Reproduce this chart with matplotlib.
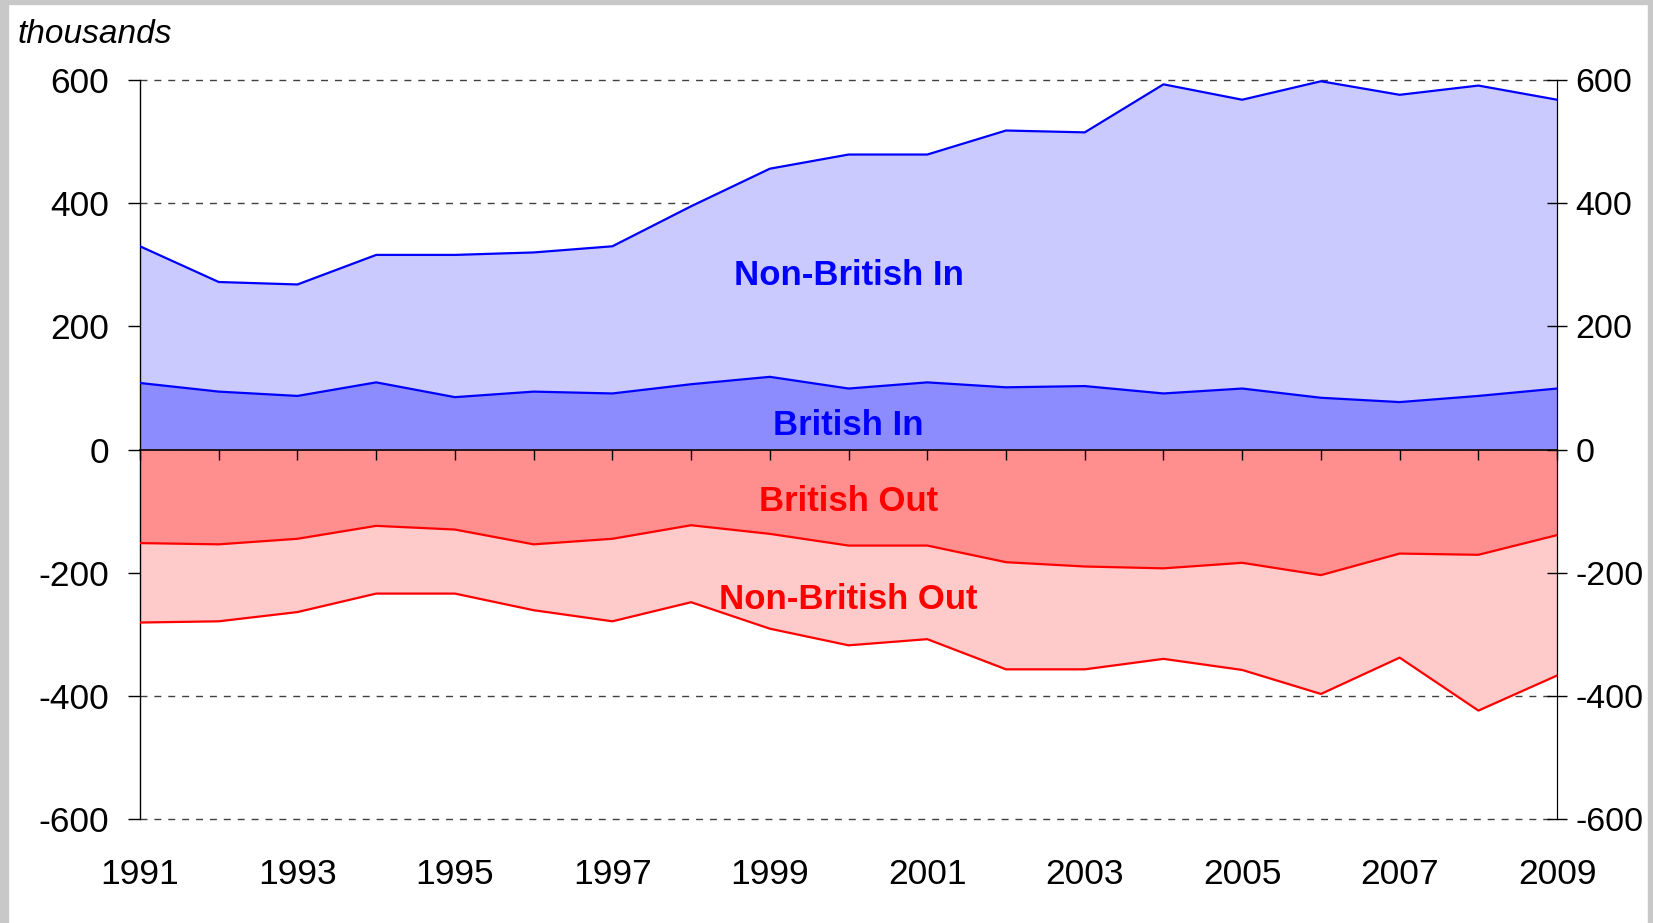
import matplotlib.pyplot as plt
from matplotlib.patches import Rectangle
import numpy as np

plt.rcParams['font.family'] = ['Liberation Sans', 'DejaVu Sans']
plt.rcParams['axes.unicode_minus'] = False

# data, thousands
years = np.arange(1991, 2010)
british_in = [108, 94, 87, 109, 85, 94, 91, 106, 118, 99, 109, 101, 103, 91, 99, 84, 77, 87, 99]
total_in = [330, 272, 268, 316, 316, 320, 330, 395, 456, 479, 479, 518, 515, 593, 568, 598, 576, 591, 568]
british_out = [-152, -154, -145, -124, -130, -154, -145, -123, -137, -156, -156, -183, -190, -193, -184, -204, -169, -171, -139]
total_out = [-281, -279, -264, -234, -234, -261, -279, -248, -291, -318, -308, -357, -357, -340, -358, -397, -338, -424, -367]

non_british_in = np.array(total_in) - np.array(british_in)
non_british_out = np.array(total_out) - np.array(british_out)

fig = plt.figure(figsize=(16.53, 9.23), dpi=100)
ax = fig.add_axes([0.0847, 0.1127, 0.8573, 0.8006])

# stacked areas
ax.stackplot(years, british_in, non_british_in,
             colors=['#8c8cff', '#cacaff'], zorder=2)
ax.stackplot(years, british_out, non_british_out,
             colors=['#ff8e8e', '#ffcaca'], zorder=2)
ax.plot(years, british_in, color='#0000ff', lw=1.6, zorder=3)
ax.plot(years, total_in, color='#0000ff', lw=1.6, zorder=3)
ax.plot(years, british_out, color='#ff0000', lw=1.6, zorder=3)
ax.plot(years, total_out, color='#ff0000', lw=1.6, zorder=3)

ax.set_xlim(1991, 2009)
ax.set_ylim(-600, 600)
ax.set_yticks(np.arange(-600, 601, 200))
ax.set_xticks(years[::2])
ax.grid(axis='y', color='#404040', linestyle=(0, (5, 5)), lw=1)
ax.set_axisbelow(True)
for gl in ax.get_ygridlines():
    gl.set_clip_on(False)

for s in ['top', 'bottom']:
    ax.spines[s].set_visible(False)
ax.spines['left'].set_linewidth(1)
ax.tick_params(axis='x', length=0, labelsize=25.5, pad=28)
ax.tick_params(axis='y', direction='out', length=9, width=1, labelsize=25.5, pad=13)

# right axis
axr = ax.twinx()
axr.set_ylim(-600, 600)
axr.set_yticks(np.arange(-600, 601, 200))
for s in ['top', 'bottom', 'left']:
    axr.spines[s].set_visible(False)
axr.tick_params(axis='y', direction='inout', length=14, width=1, labelsize=24.5, pad=6)

# zero line with yearly ticks
axz = ax.twiny()
axz.set_xlim(1991, 2009)
axz.set_xticks(years)
for s in ['top', 'left', 'right']:
    axz.spines[s].set_visible(False)
axz.spines['bottom'].set_position(('axes', 0.5))
axz.spines['bottom'].set_linewidth(1.2)
axz.xaxis.set_ticks_position('bottom')
axz.tick_params(axis='x', direction='out', length=7, width=1, labelbottom=False)

ax.text(2000, 267, 'Non-British In', color='#0000ff', fontsize=25,
        fontweight='bold', ha='center', va='baseline', zorder=4)
ax.text(2000, 24, 'British In', color='#0000ff', fontsize=25,
        fontweight='bold', ha='center', va='baseline', zorder=4)
ax.text(2000, -100, 'British Out', color='#ff0000', fontsize=25,
        fontweight='bold', ha='center', va='baseline', zorder=4)
ax.text(2000, -259, 'Non-British Out', color='#ff0000', fontsize=25,
        fontweight='bold', ha='center', va='baseline', zorder=4)

fig.text(0.0103, 1 - 43 / 923, 'thousands', fontsize=24, style='italic',
         ha='left', va='baseline')

# grey frame
for r in [(0, 1 - 4 / 923, 1, 4 / 923), (0, 0, 8 / 1653, 1), (1 - 5 / 1653, 0, 5 / 1653, 1)]:
    fig.patches.append(Rectangle(r[:2], r[2], r[3], transform=fig.transFigure,
                                 color='#c8c8c8', zorder=0))

fig.savefig('out.png', dpi=100)
